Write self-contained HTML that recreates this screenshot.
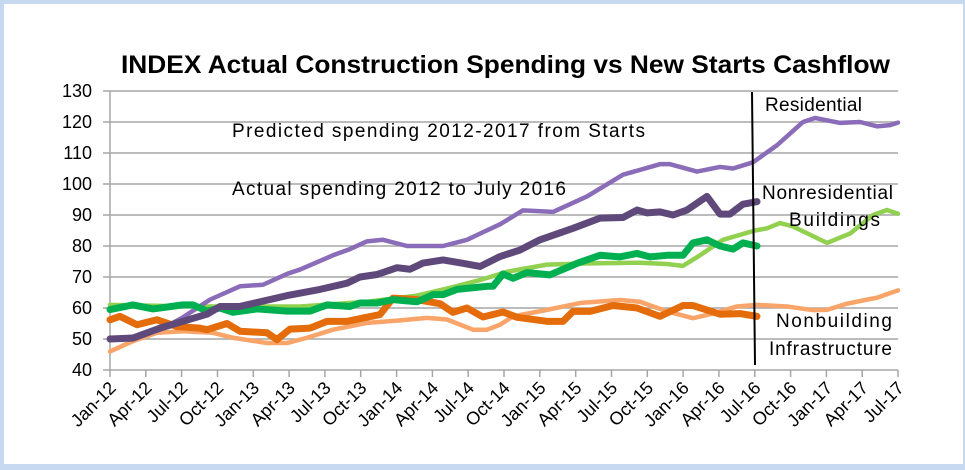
<!DOCTYPE html>
<html><head><meta charset="utf-8"><style>
html,body{margin:0;padding:0;background:#c6d9f1;}
svg{display:block;font-family:"Liberation Sans",sans-serif;}
</style></head><body>
<svg width="965" height="470" viewBox="0 0 965 470">
<rect x="0" y="0" width="965" height="470" fill="#c6d9f1"/>
<rect x="4" y="4" width="959" height="460" fill="#ffffff"/>
<text x="121" y="73" font-size="25" font-weight="bold" textLength="769" lengthAdjust="spacingAndGlyphs">INDEX Actual Construction Spending vs New Starts Cashflow</text>
<g stroke="#a6a6a6" stroke-width="1.5">
<line x1="103" y1="91" x2="898" y2="91"/><line x1="103" y1="122" x2="898" y2="122"/>
<line x1="103" y1="153" x2="898" y2="153"/><line x1="103" y1="184" x2="898" y2="184"/>
<line x1="103" y1="215" x2="898" y2="215"/><line x1="103" y1="246" x2="898" y2="246"/>
<line x1="103" y1="277" x2="898" y2="277"/><line x1="103" y1="308" x2="898" y2="308"/>
<line x1="103" y1="339" x2="898" y2="339"/><line x1="103" y1="370" x2="898" y2="370"/>
<line x1="110" y1="91" x2="110" y2="377"/>
<line x1="145.8" y1="370" x2="145.8" y2="377"/><line x1="181.6" y1="370" x2="181.6" y2="377"/>
<line x1="217.5" y1="370" x2="217.5" y2="377"/><line x1="253.3" y1="370" x2="253.3" y2="377"/>
<line x1="289.1" y1="370" x2="289.1" y2="377"/><line x1="324.9" y1="370" x2="324.9" y2="377"/>
<line x1="360.7" y1="370" x2="360.7" y2="377"/><line x1="396.6" y1="370" x2="396.6" y2="377"/>
<line x1="432.4" y1="370" x2="432.4" y2="377"/><line x1="468.2" y1="370" x2="468.2" y2="377"/>
<line x1="504.0" y1="370" x2="504.0" y2="377"/><line x1="539.8" y1="370" x2="539.8" y2="377"/>
<line x1="575.7" y1="370" x2="575.7" y2="377"/><line x1="611.5" y1="370" x2="611.5" y2="377"/>
<line x1="647.3" y1="370" x2="647.3" y2="377"/><line x1="683.1" y1="370" x2="683.1" y2="377"/>
<line x1="718.9" y1="370" x2="718.9" y2="377"/><line x1="754.8" y1="370" x2="754.8" y2="377"/>
<line x1="790.6" y1="370" x2="790.6" y2="377"/><line x1="826.4" y1="370" x2="826.4" y2="377"/>
<line x1="862.2" y1="370" x2="862.2" y2="377"/><line x1="898" y1="370" x2="898" y2="377"/>
</g>
<g font-size="18" text-anchor="end" fill="#000">
<text x="92" y="97">130</text><text x="92" y="128">120</text><text x="92" y="159">110</text>
<text x="92" y="190">100</text><text x="92" y="221">90</text><text x="92" y="252">80</text>
<text x="92" y="283">70</text><text x="92" y="314">60</text><text x="92" y="345">50</text>
<text x="92" y="376">40</text>
</g>
<g font-size="18" text-anchor="end" fill="#000">
<text transform="translate(117,389) rotate(-45)">Jan-12</text>
<text transform="translate(152.8,389) rotate(-45)">Apr-12</text>
<text transform="translate(188.6,389) rotate(-45)">Jul-12</text>
<text transform="translate(224.5,389) rotate(-45)">Oct-12</text>
<text transform="translate(260.3,389) rotate(-45)">Jan-13</text>
<text transform="translate(296.1,389) rotate(-45)">Apr-13</text>
<text transform="translate(331.9,389) rotate(-45)">Jul-13</text>
<text transform="translate(367.7,389) rotate(-45)">Oct-13</text>
<text transform="translate(403.6,389) rotate(-45)">Jan-14</text>
<text transform="translate(439.4,389) rotate(-45)">Apr-14</text>
<text transform="translate(475.2,389) rotate(-45)">Jul-14</text>
<text transform="translate(511.0,389) rotate(-45)">Oct-14</text>
<text transform="translate(546.8,389) rotate(-45)">Jan-15</text>
<text transform="translate(582.7,389) rotate(-45)">Apr-15</text>
<text transform="translate(618.5,389) rotate(-45)">Jul-15</text>
<text transform="translate(654.3,389) rotate(-45)">Oct-15</text>
<text transform="translate(690.1,389) rotate(-45)">Jan-16</text>
<text transform="translate(725.9,389) rotate(-45)">Apr-16</text>
<text transform="translate(761.8,389) rotate(-45)">Jul-16</text>
<text transform="translate(797.6,389) rotate(-45)">Oct-16</text>
<text transform="translate(833.4,389) rotate(-45)">Jan-17</text>
<text transform="translate(869.2,389) rotate(-45)">Apr-17</text>
<text transform="translate(905,389) rotate(-45)">Jul-17</text>
</g>
<g transform="matrix(1 0 0 -3.1 0 494)" fill="none" stroke-linejoin="round" stroke-linecap="round">
<polyline vector-effect="non-scaling-stroke" stroke="#f9a468" stroke-width="4.5" points="110,46 133,49.3 157,52 183,52.5 213,52 233,50.4 267,48.7 287,48.7 307,50.4 333,53 367,55.2 400,56 427,56.8 447,56.3 473,53 487,53 500,54.6 513,57.3 547,59.4 580,61.6 620,62.6 640,62 667,58.9 693,56.7 713,58.2 737,60.5 757,61 787,60.5 813,59.3 827,59.4 847,61.4 867,62.7 877,63.3 898,65.7"/>
<polyline vector-effect="non-scaling-stroke" stroke="#92d050" stroke-width="4.5" points="110,61 200,60.5 267,60.5 300,60.5 367,62 417,64 450,66.5 480,69 507,71.7 547,74 590,74.4 640,74.6 667,74.2 683,73.6 700,77 723,82 755,85 767,85.7 780,87.4 793,86.3 827,81 850,84 873,90 887,91.6 898,90.4"/>
<polyline vector-effect="non-scaling-stroke" stroke="#8a6cb8" stroke-width="4.5" points="110,50 140,51 160,53 183,57 210,62.7 240,67 263,67.5 287,71 300,72.4 333,77 350,79 367,81.5 383,82 407,80 443,80 467,82 480,84 500,87 523,91.5 553,91 587,96 623,103 660,106.4 670,106.4 697,104 720,105.5 733,105 753,107 777,112.5 803,120 815,121.3 840,119.7 860,120 877,118.6 890,119 898,119.8"/>
<polyline vector-effect="non-scaling-stroke" stroke="#e46c0a" stroke-width="7" points="110,56.2 120,57.3 137,54.6 157,56.2 177,54 200,53.5 207,53 227,55 240,52.5 267,52 277,49.8 290,53.2 310,53.5 327,55.7 347,55.7 380,57.9 393,63.2 417,62.7 440,61.4 453,58.6 467,60 483,57.1 503,58.7 517,57 547,55.7 563,55.7 573,58.9 590,58.9 613,60.8 637,60 660,57.3 683,60.8 693,60.8 720,58 740,58.2 757,57.3"/>
<polyline vector-effect="non-scaling-stroke" stroke="#00b050" stroke-width="7" points="110,59.5 133,61 153,59.7 183,61 193,61 207,59 220,60 233,58.6 257,59.7 287,59 310,59 327,61 350,60.5 360,61.6 377,61.6 393,62.7 417,62 433,64.3 443,64.3 457,66 487,67 493,67 503,71 513,69.6 527,71.4 550,70.7 577,74.4 600,77 620,76.5 637,77.6 650,76.5 667,77 683,77 693,81 707,82 720,80 733,79 743,81 757,80"/>
<polyline vector-effect="non-scaling-stroke" stroke="#5f497a" stroke-width="7" points="110,50 133,50.3 160,53.5 183,55.7 207,58 220,60.5 240,60.5 287,64 320,66 347,68 360,70 377,70.8 397,73 410,72.5 423,74.5 443,75.5 463,74.4 480,73.4 500,76.6 520,78.7 540,82 573,85.7 600,89 623,89.2 637,91.6 647,90.7 660,91 673,90 687,91.6 707,96 720,90.3 730,90.3 743,93.5 757,94.3"/>
</g>
<line x1="752" y1="92" x2="755" y2="365" stroke="#000" stroke-width="2"/>
<g font-size="19" fill="#000" lengthAdjust="spacingAndGlyphs">
<text x="232" y="137" textLength="413">Predicted spending 2012-2017 from Starts</text>
<text x="232" y="195" textLength="334">Actual spending 2012 to July 2016</text>
<text x="765" y="111" textLength="97">Residential</text>
<text x="762" y="199" textLength="131">Nonresidential</text>
<text x="789" y="226" textLength="91">Buildings</text>
<text x="776" y="327" textLength="116">Nonbuilding</text>
<text x="769" y="355" textLength="123">Infrastructure</text>
</g>
</svg>
</body></html>
